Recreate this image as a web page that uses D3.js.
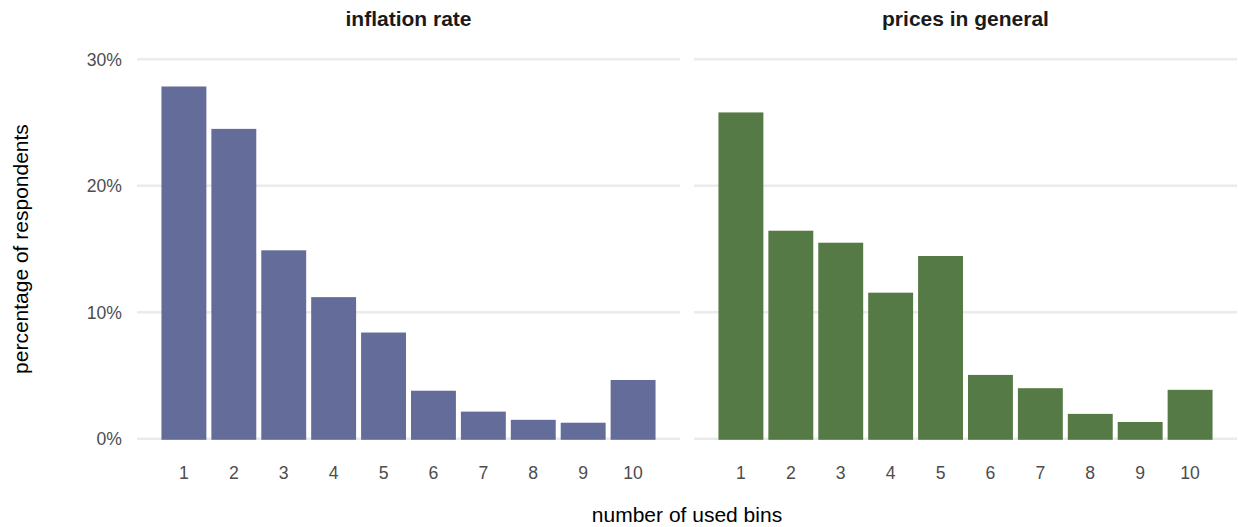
<!DOCTYPE html>
<html>
<head>
<meta charset="utf-8">
<script src="https://cdn.jsdelivr.net/npm/d3@7"></script>
<style>
  html, body { margin: 0; padding: 0; background: #ffffff; }
  svg { display: block; font-family: "Liberation Sans", Arial, Helvetica, sans-serif; }
</style>
</head>
<body>
<svg id="chart" width="1238" height="527"></svg>
<script>
// ---- data ----
const bins = ["1", "2", "3", "4", "5", "6", "7", "8", "9", "10"];
const panelTitles = ["inflation rate", "prices in general"];
const inflationRate = [27.85, 24.5, 14.9, 11.2, 8.4, 3.8, 2.15, 1.5, 1.27, 4.65];
const pricesInGeneral = [25.8, 16.45, 15.5, 11.55, 14.45, 5.05, 4.0, 1.97, 1.33, 3.87];
const yTicks = [0, 10, 20, 30];
const yTickLabels = ["0%", "10%", "20%", "30%"];
const barColors = ["#646D99", "#557A46"];
const xTitle = "number of used bins";
const yTitle = "percentage of respondents";

const series = [inflationRate, pricesInGeneral];

// ---- layout ----
const svg = d3.select("#chart");
const panels = [{ left: 137, right: 680 }, { left: 694, right: 1237 }];
const yTop = 59.3, yBottom = 438.8;

const y = d3.scaleLinear().domain([0, 30]).range([yBottom, yTop]);

// y tick labels (left panel only)
const yAxisG = svg.append("g");
yTicks.forEach((t, i) => {
  yAxisG.append("text")
    .attr("x", 122)
    .attr("y", y(t) + 6.5)
    .attr("text-anchor", "end")
    .attr("font-size", 17.6)
    .attr("fill", "#4d4d4d")
    .text(yTickLabels[i]);
});

panels.forEach((p, pi) => {
  const x = d3.scaleBand().domain(bins).range([p.left, p.right])
    .paddingInner(0.1).paddingOuter(0.49);
  const g = svg.append("g");

  // grid lines
  g.selectAll("line.grid").data(yTicks).join("line")
    .attr("x1", p.left).attr("x2", p.right)
    .attr("y1", d => y(d)).attr("y2", d => y(d))
    .attr("stroke", "#ebebeb").attr("stroke-width", 2.6);

  // bars
  g.selectAll("rect.bar").data(series[pi]).join("rect")
    .attr("x", (d, i) => x(bins[i]))
    .attr("width", x.bandwidth())
    .attr("y", d => y(d))
    .attr("height", d => y(0) - y(d) + 1)
    .attr("fill", barColors[pi]);

  // x tick labels
  g.selectAll("text.xt").data(bins).join("text")
    .attr("x", d => x(d) + x.bandwidth() / 2)
    .attr("y", 479)
    .attr("text-anchor", "middle")
    .attr("font-size", 17.6)
    .attr("fill", "#4d4d4d")
    .text(d => d);

  // strip title
  g.append("text")
    .attr("x", (p.left + p.right) / 2)
    .attr("y", 26)
    .attr("text-anchor", "middle")
    .attr("font-size", 21)
    .attr("font-weight", "bold")
    .attr("fill", "#1a1a1a")
    .text(panelTitles[pi]);
});

// axis titles
svg.append("text")
  .attr("x", (panels[0].left + panels[1].right) / 2)
  .attr("y", 522)
  .attr("text-anchor", "middle")
  .attr("font-size", 21)
  .attr("fill", "#000")
  .text(xTitle);

svg.append("text")
  .attr("transform", `translate(28,${(yTop + yBottom) / 2}) rotate(-90)`)
  .attr("text-anchor", "middle")
  .attr("font-size", 21)
  .attr("fill", "#000")
  .text(yTitle);
</script>
</body>
</html>
